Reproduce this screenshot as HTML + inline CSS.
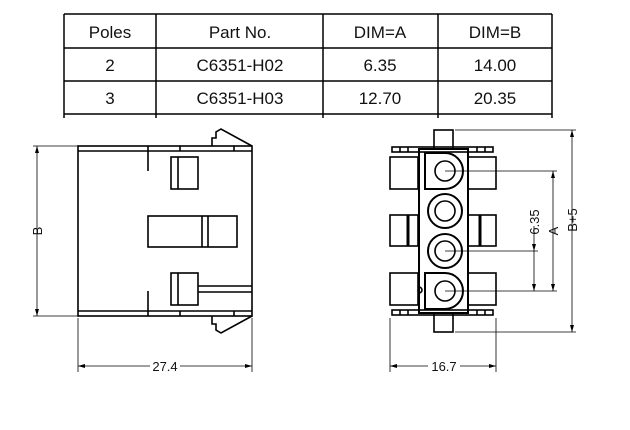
<!DOCTYPE html>
<html><head><style>
html,body{margin:0;padding:0;background:#fff;width:630px;height:430px;overflow:hidden}
svg text{font-family:"Liberation Sans",sans-serif}
</style></head><body>
<svg width="630" height="430" viewBox="0 0 630 430" xmlns="http://www.w3.org/2000/svg">
<g stroke="#000" stroke-width="1.5" fill="none">
<rect x="64" y="14" width="488" height="103" fill="none" stroke="none"/>
<line x1="64" y1="14" x2="552" y2="14"/>
<line x1="64" y1="48" x2="552" y2="48"/>
<line x1="64" y1="81" x2="552" y2="81"/>
<line x1="64" y1="114" x2="552" y2="114"/>
<line x1="64" y1="14" x2="64" y2="118"/>
<line x1="156" y1="14" x2="156" y2="118"/>
<line x1="323" y1="14" x2="323" y2="118"/>
<line x1="438" y1="14" x2="438" y2="118"/>
<line x1="552" y1="14" x2="552" y2="118"/>
</g>
<g font-size="17" text-anchor="middle" fill="#111">
<text x="110" y="38">Poles</text><text x="240" y="38">Part No.</text><text x="380" y="38">DIM=A</text><text x="495" y="38">DIM=B</text>
<text x="110" y="71">2</text><text x="240" y="71">C6351-H02</text><text x="380" y="71">6.35</text><text x="495" y="71">14.00</text>
<text x="110" y="104">3</text><text x="240" y="104">C6351-H03</text><text x="380" y="104">12.70</text><text x="495" y="104">20.35</text>
</g>
<!-- left view -->
<g stroke="#000" stroke-width="1.6" fill="none">
<rect x="78" y="146" width="174" height="170"/>
<line x1="78" y1="151" x2="252" y2="151"/>
<line x1="78" y1="311" x2="252" y2="311"/>
<line x1="148" y1="146" x2="148" y2="171"/>
<line x1="148" y1="291" x2="148" y2="316"/>
<line x1="180" y1="146" x2="180" y2="151"/><line x1="234" y1="146" x2="234" y2="151"/>
<line x1="180" y1="311" x2="180" y2="316"/><line x1="234" y1="311" x2="234" y2="316"/>
<path d="M212 146 L212 138 L216 138 L216 132 L221 129 L252 146"/>
<path d="M212 316 L212 324 L216 324 L216 330 L221 333 L252 316"/>
<rect x="171" y="157" width="27" height="32"/><line x1="178" y1="157" x2="178" y2="189"/>
<rect x="148" y="216" width="89" height="31"/><line x1="202" y1="216" x2="202" y2="247"/><line x1="208" y1="216" x2="208" y2="247"/>
<rect x="171" y="273" width="27" height="32"/><line x1="178" y1="273" x2="178" y2="305"/>
<line x1="198" y1="286" x2="252" y2="286"/><line x1="198" y1="292" x2="252" y2="292"/>
</g>
<g stroke="#000" stroke-width="0.8" fill="none">
<line x1="33" y1="146" x2="78" y2="146"/><line x1="33" y1="316" x2="78" y2="316"/>
<line x1="37" y1="146" x2="37" y2="316"/>
<line x1="78" y1="318" x2="78" y2="372"/><line x1="252" y1="318" x2="252" y2="372"/>
<line x1="78" y1="366" x2="150" y2="366"/><line x1="180" y1="366" x2="252" y2="366"/>
<line x1="390" y1="318" x2="390" y2="372"/><line x1="496" y1="318" x2="496" y2="372"/>
<line x1="390" y1="366" x2="428" y2="366"/><line x1="460" y1="366" x2="496" y2="366"/>
<line x1="455" y1="130" x2="576" y2="130"/><line x1="455" y1="332" x2="576" y2="332"/>
<line x1="572" y1="130" x2="572" y2="332"/>
<line x1="445" y1="171" x2="557" y2="171"/><line x1="445" y1="291" x2="557" y2="291"/>
<line x1="445" y1="251" x2="538" y2="251"/>
<line x1="553" y1="171" x2="553" y2="291"/>
<line x1="534" y1="251" x2="534" y2="291"/><line x1="534" y1="226" x2="534" y2="251"/>
</g>
<g fill="#000">
<path d="M37 146 l-2 7 h4z"/><path d="M37 316 l-2 -7 h4z"/>
<path d="M78 366 l7 -2 v4z"/><path d="M252 366 l-7 -2 v4z"/>
<path d="M390 366 l7 -2 v4z"/><path d="M496 366 l-7 -2 v4z"/>
<path d="M572 130 l-2 7 h4z"/><path d="M572 332 l-2 -7 h4z"/>
<path d="M553 171 l-2 7 h4z"/><path d="M553 291 l-2 -7 h4z"/>
<path d="M534 251 l-2 -7 h4z"/><path d="M534 291 l-2 -7 h4z"/>
</g>
<g font-size="13" fill="#111">
<text x="165" y="371" text-anchor="middle">27.4</text>
<text x="444" y="371" text-anchor="middle">16.7</text>
<text transform="translate(42,231) rotate(-90)" text-anchor="middle">B</text>
<text transform="translate(577,220) rotate(-90)" text-anchor="middle">B+5</text>
<text transform="translate(558,231) rotate(-90)" text-anchor="middle">A</text>
<text transform="translate(539,222) rotate(-90)" text-anchor="middle">6.35</text>
</g>
<!-- right view -->
<g stroke="#000" stroke-width="1.6" fill="none">
<rect x="434" y="130" width="19" height="19"/>
<rect x="434" y="313" width="19" height="19"/>
<rect x="392" y="147" width="101" height="5"/>
<rect x="392" y="310" width="101" height="5"/>
<line x1="400" y1="147" x2="400" y2="152"/><line x1="408" y1="147" x2="408" y2="152"/>
<line x1="477" y1="147" x2="477" y2="152"/><line x1="485" y1="147" x2="485" y2="152"/>
<line x1="400" y1="310" x2="400" y2="315"/><line x1="408" y1="310" x2="408" y2="315"/>
<line x1="477" y1="310" x2="477" y2="315"/><line x1="485" y1="310" x2="485" y2="315"/>
<rect x="419" y="149" width="49" height="164" stroke-width="2"/>
<rect x="390" y="157" width="28" height="32"/><rect x="390" y="215" width="28" height="31"/><rect x="390" y="273" width="28" height="32"/>
<rect x="468" y="157" width="28" height="32"/><rect x="468" y="215" width="28" height="31"/><rect x="468" y="273" width="28" height="32"/>
<line x1="408" y1="215" x2="408" y2="246" stroke-width="3"/><line x1="480" y1="215" x2="480" y2="246" stroke-width="3"/>
<path d="M425 153 L445 153 A18 18 0 0 1 445 189 L425 189 Z" stroke-width="2"/>
<path d="M425 273 L445 273 A18 18 0 0 1 445 309 L425 309 Z" stroke-width="2"/>
<circle cx="445" cy="171" r="10"/><circle cx="445" cy="291" r="10"/>
<circle cx="445" cy="211" r="17" stroke-width="2"/><circle cx="445" cy="211" r="10"/>
<circle cx="445" cy="251" r="17" stroke-width="2"/><circle cx="445" cy="251" r="10"/>
<path d="M419 287 a3 3 0 0 1 0 6"/>
</g>
</svg>
</body></html>
